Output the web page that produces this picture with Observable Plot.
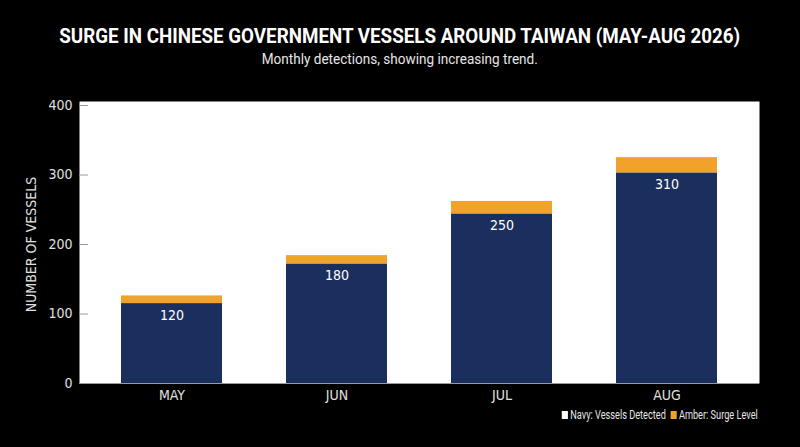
<!DOCTYPE html>
<html>
<head>
<meta charset="utf-8">
<script src="https://cdn.jsdelivr.net/npm/d3@7"></script>
<script src="https://cdn.jsdelivr.net/npm/@observablehq/plot@0.6"></script>
<style>
  html, body { margin: 0; padding: 0; background: #000; }
  body { width: 800px; height: 447px; position: relative; overflow: hidden; font-family: Roboto, "Liberation Sans", sans-serif; }
  .row { position: absolute; left: 0; width: 800px; text-align: center; white-space: nowrap; }
  .fit { display: inline-block; transform-origin: center center; white-space: nowrap; }
  #title { top: 24px; color: #fff; font-size: 21px; font-weight: bold; }
  #subtitle { top: 50px; color: #e6e6e6; font-size: 15px; }
  #chart { position: absolute; top: 80px; left: 0; }
  #legendRow { position: absolute; top: 404px; right: 42px; }
  #legend { color: #e6e6e6; font-size: 12px; display: inline-flex; align-items: center; gap: 6px;
            white-space: nowrap; transform-origin: right center; }
  .sw { display: inline-block; width: 8px; height: 8px; margin-right: 3px; }
  .item { display: inline-flex; align-items: center; }
</style>
</head>
<body>
<div class="row" id="title"><span class="fit" id="titleText">SURGE IN CHINESE GOVERNMENT VESSELS AROUND TAIWAN (MAY-AUG 2026)</span></div>
<div class="row" id="subtitle"><span class="fit" id="subText">Monthly detections, showing increasing trend.</span></div>
<div id="chart"></div>
<div id="legendRow">
  <div id="legend">
    <span class="item"><span class="sw" style="background:#fff"></span>Navy: Vessels Detected</span>
    <span class="item"><span class="sw" style="background:#f0a22b"></span>Amber: Surge Level</span>
  </div>
</div>
<script>
const months = ["MAY", "JUN", "JUL", "AUG"];
const detected = [115, 172, 244, 303];
const surge = [11, 12, 18, 22];
const labels = [120, 180, 250, 310];
const yTicks = [0, 100, 200, 300, 400];
const seriesNames = ["Vessels Detected", "Surge Level"];
const seriesColors = ["#1b2f5e", "#f0a22b"];

const rows = [];
months.forEach((m, i) => {
  rows.push({month: m, series: seriesNames[0], value: detected[i]});
  rows.push({month: m, series: seriesNames[1], value: surge[i]});
});
const labelRows = months.map((m, i) => ({month: m, top: detected[i], label: String(labels[i])}));

const font = "'DejaVu Sans Condensed', Roboto, sans-serif";

const chart = Plot.plot({
  width: 800,
  height: 330,
  marginTop: 25,
  marginBottom: 27,
  marginLeft: 79,
  marginRight: 41,
  style: {background: "transparent", fontFamily: font, fontSize: "14px", color: "#e0e0e0"},
  x: {domain: months, paddingInner: 0.39, paddingOuter: 0.25, label: null},
  y: {domain: [0, 400], ticks: yTicks, label: null},
  color: {domain: seriesNames, range: seriesColors},
  marks: [
    Plot.frame({fill: "#fff", insetTop: -4}),
    Plot.barY(rows, {x: "month", y: "value", fill: "series", order: seriesNames}),
    Plot.ruleY([0], {stroke: "#9a9a9a", strokeWidth: 1}),
    Plot.text(labelRows, {x: "month", y: "top", text: "label", dy: 12, fill: "#fff", fontSize: 14}),
    Plot.axisY({ticks: yTicks, tickSize: -9, tickPadding: 16, stroke: "#9a9a9a", fill: "#e0e0e0", fontSize: 14,
                label: "NUMBER OF VESSELS", labelAnchor: "center", labelArrow: "none", labelOffset: 53}),
    Plot.axisX({tickSize: 0, tickPadding: 7, fill: "#e0e0e0", fontSize: 14, label: null})
  ]
});
document.getElementById("chart").appendChild(chart);

// Condense the HTML texts to the reference widths (the reference uses a condensed face).
function fitWidth(el, target) {
  const w = el.getBoundingClientRect().width;
  if (w > 0) el.style.transform = `scaleX(${target / w})`;
}
fitWidth(document.getElementById("titleText"), 681);
fitWidth(document.getElementById("subText"), 276);
fitWidth(document.getElementById("legend"), 196);
</script>
</body>
</html>
